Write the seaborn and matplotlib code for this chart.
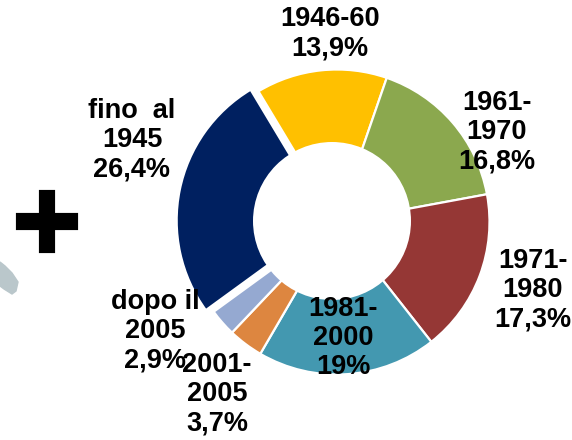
import matplotlib.patheffects as pe
import matplotlib.pyplot as plt
import seaborn as sns
from matplotlib.patches import Circle

sns.set_theme(style="white")
plt.rcParams["font.family"] = ["Liberation Sans", "DejaVu Sans"]

PERIODS = ["1946-60", "1961-\n1970", "1971-\n1980", "1981-\n2000", "2001-\n2005", "dopo il\n2005", "fino  al\n1945"]
SHARES = [13.9, 16.8, 17.3, 19.0, 3.7, 2.9, 26.4]
SHARE_LABELS = ["13,9%", "16,8%", "17,3%", "19%", "3,7%", "2,9%", "26,4%"]
COLORS = ["#FFC000", "#8BA84E", "#953735", "#4398B0", "#DD8640", "#95A9D1", "#002060"]
LABEL_POS = [(330, 34), (497, 132), (533, 290), (343, 338), (217, 394), (155, 331), (132, 140)]
EXPLODE = [0, 0, 0, 0, 0, 0, 8]  # pie takes this in data units, here pixels

H = 440
fig = plt.figure(figsize=(5.72, 4.4), dpi=100)
ax = fig.add_axes([0, 0, 1, 1])

ax.pie(
    SHARES,
    colors=COLORS,
    explode=EXPLODE,
    startangle=121,
    counterclock=False,
    center=(337, H - 222),
    radius=152.5,
    wedgeprops={"edgecolor": "white", "linewidth": 1.6},
)
ax.set_xlim(0, 572)
ax.set_ylim(0, H)
ax.set_axis_off()

# the hole is a little off-centre from the ring
ax.add_patch(Circle((332, H - 221), 79, facecolor="white", edgecolor="none", zorder=3))

# scrap of map at the left edge
ax.fill(
    [0, 5, 12, 18, 16, 12, 4, 0],
    [H - 262, H - 266, H - 273, H - 282, H - 291, H - 294, H - 289, H - 286],
    color="#BAC7CB",
    zorder=2,
)
ax.text(
    47,
    H - 218,
    "+",
    fontsize=84,
    fontweight="bold",
    color="black",
    ha="center",
    va="center_baseline",
    zorder=4,
    path_effects=[pe.withStroke(linewidth=3, foreground="black", joinstyle="miter", capstyle="butt")],
)

for period, share, (x, y) in zip(PERIODS, SHARE_LABELS, LABEL_POS):
    ax.text(
        x,
        H - y,
        f"{period}\n{share}",
        fontsize=19.5,
        fontweight="bold",
        color="black",
        ha="center",
        va="center",
        linespacing=1.17,
        zorder=5,
    )

fig.savefig("out.png", dpi=100)
